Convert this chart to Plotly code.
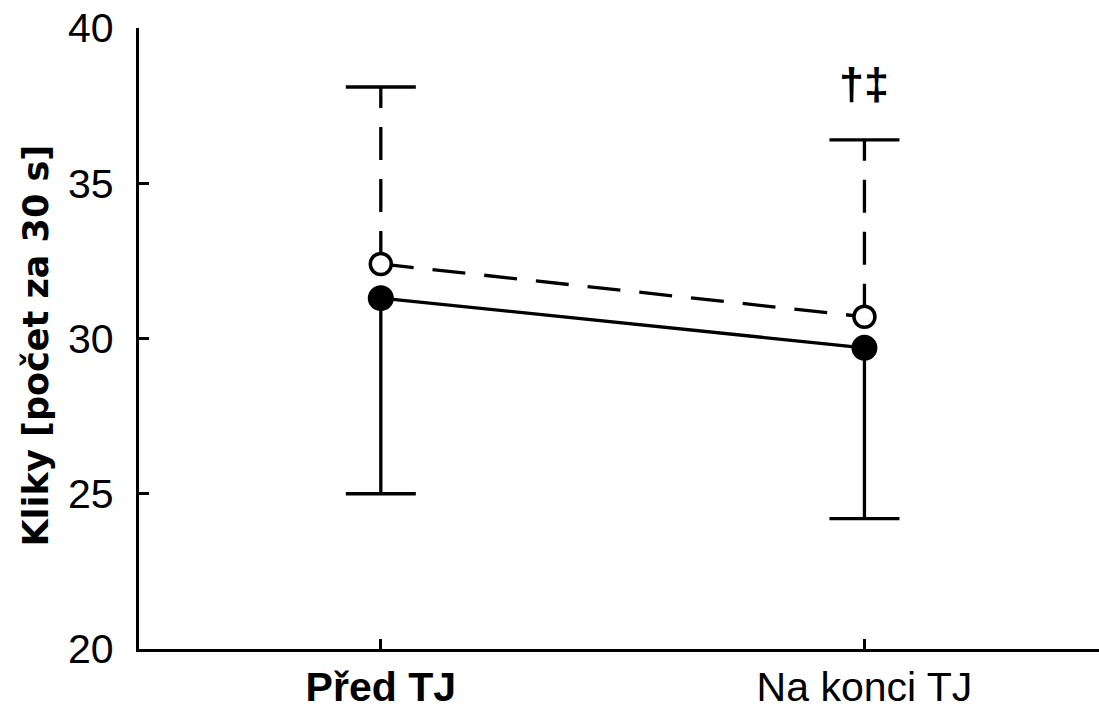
import plotly.graph_objects as go

# ---- data ----
categories = ["Před TJ", "Na konci TJ"]
tick_text = ["<b>Před TJ</b>", "Na konci TJ"]
x_pos = [0, 1]
filled_mean = [31.3, 29.7]
filled_sd = [6.3, 5.5]
open_mean = [32.4, 30.7]
open_sd = [5.7, 5.7]
y_ticks = [20, 25, 30, 35, 40]
sig_label = "†‡"

FONT = "Liberation Sans, Arial, Helvetica, sans-serif"
LW = 3.3
DASH = "33px,19px"

fig = go.Figure()

# dashed upper error bars for the open-circle series
for xi, m, s in zip(x_pos, open_mean, open_sd):
    fig.add_trace(go.Scatter(
        x=[xi, xi], y=[m, m + s], mode="lines",
        line=dict(color="black", width=LW, dash=DASH),
        hoverinfo="skip", showlegend=False))
# solid lower error bars for the filled series
for xi, m, s in zip(x_pos, filled_mean, filled_sd):
    fig.add_trace(go.Scatter(
        x=[xi, xi], y=[m, m - s], mode="lines",
        line=dict(color="black", width=LW),
        hoverinfo="skip", showlegend=False))
# caps
fig.add_trace(go.Scatter(
    x=x_pos + x_pos,
    y=[m + s for m, s in zip(open_mean, open_sd)] + [m - s for m, s in zip(filled_mean, filled_sd)],
    mode="markers",
    marker=dict(symbol="line-ew", size=50, line=dict(color="black", width=LW)),
    hoverinfo="skip", showlegend=False))

# filled series
fig.add_trace(go.Scatter(
    x=x_pos, y=filled_mean, mode="lines+markers",
    line=dict(color="black", width=LW),
    marker=dict(symbol="circle", size=26, color="black", line=dict(width=0)),
    showlegend=False))

# open series, dashed connector
fig.add_trace(go.Scatter(
    x=x_pos, y=open_mean, mode="lines+markers",
    line=dict(color="black", width=LW, dash=DASH),
    marker=dict(symbol="circle", size=21, color="white",
                line=dict(color="black", width=3.5)),
    showlegend=False))

fig.add_annotation(x=x_pos[1], y=38.2, xref="x", yref="y", text=f"<b>{sig_label}</b>",
                   showarrow=False, font=dict(family=FONT, size=45, color="black"),
                   xanchor="center", yanchor="middle")

fig.add_annotation(x=0, y=0.5, xref="paper", yref="paper", xshift=-104, yshift=-7,
                   text="<b>Kliky [počet za 30 s]</b>", textangle=-90, showarrow=False,
                   font=dict(family="DejaVu Sans, sans-serif", size=35, color="black"),
                   xanchor="center", yanchor="middle")

fig.update_layout(
    width=1099, height=719,
    margin=dict(l=139, r=0, t=28, b=70, autoexpand=False),
    paper_bgcolor="white", plot_bgcolor="white",
    font=dict(family=FONT, size=41, color="black"),
    xaxis=dict(range=[-0.5, 1.485], tickvals=x_pos, ticktext=tick_text,
               showgrid=False, zeroline=False, showline=True, linecolor="black",
               linewidth=LW, ticks="inside", ticklen=10, tickwidth=LW,
               tickcolor="black", tickfont=dict(family=FONT, size=41)),
    yaxis=dict(range=[20, 40], tickvals=y_ticks, showgrid=False, zeroline=False,
               showline=True, linecolor="black", linewidth=LW, ticks="inside",
               ticklen=10, tickwidth=LW, tickcolor="black", ticklabelstandoff=14,
               tickfont=dict(family=FONT, size=41)),
)

fig.write_html("out.html")
